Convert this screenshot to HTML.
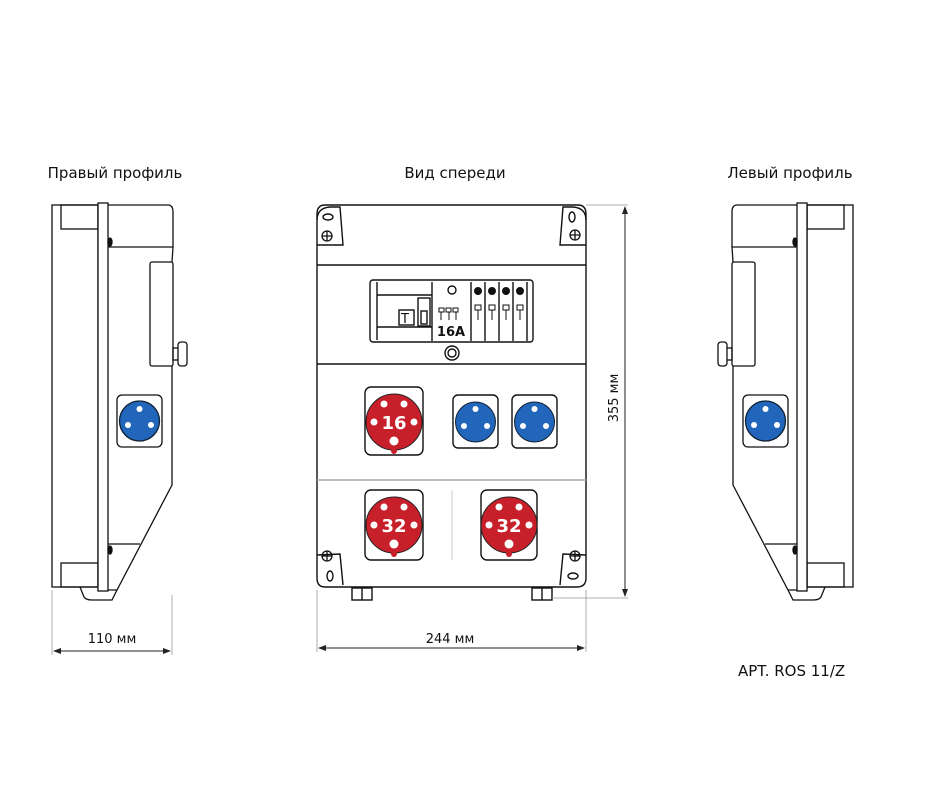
<!DOCTYPE html>
<html><head><meta charset="utf-8"><style>
html,body{margin:0;padding:0;background:#fff;width:940px;height:800px;overflow:hidden}
svg{display:block}
text{font-family:"DejaVu Sans","Liberation Sans",sans-serif;fill:#111}
</style></head><body>
<svg width="940" height="800" viewBox="0 0 940 800" xmlns="http://www.w3.org/2000/svg">
<defs>
<marker id="ar" markerWidth="8" markerHeight="6" refX="7" refY="3" orient="auto-start-reverse"><path d="M0,0 L8,3 L0,6 z" fill="#222"/></marker>
<g id="scr" fill="none" stroke="#111" stroke-width="1.3"><circle r="5"/><path d="M-5,0H5M0,-5V5"/></g>
<g id="side" fill="none" stroke="#111" stroke-width="1.3">
  <rect x="52" y="205" width="46" height="382" fill="#fff"/>
  <rect x="61" y="205" width="37" height="24"/>
  <rect x="61" y="563" width="37" height="24"/>
  <path d="M80,587 L84,597 Q86,600 92,600 L112,600 L117,590" />
  <path d="M108,205 L168,205 Q173,205 173,212 L173,247 L108,247"/>
  <path d="M173,247 L172,262 L172,485 L117,590 L108,590"/>
  <line x1="108" y1="544" x2="140" y2="544"/>
  <rect x="150" y="262" width="23" height="104" rx="2" fill="#fff"/>
  <rect x="173" y="348" width="6" height="12"/>
  <rect x="178" y="342" width="9" height="24" rx="3" fill="#fff"/>
  <rect x="98" y="203" width="10" height="388" fill="#fff"/>
  <ellipse cx="110" cy="242" rx="2" ry="4" fill="#111"/>
  <ellipse cx="110" cy="550" rx="2" ry="4" fill="#111"/>
  <rect x="117" y="395" width="45" height="52" rx="5" fill="#fff"/>
  <circle cx="139.5" cy="421" r="20" fill="#2266bb" stroke="#123"/>
  <circle cx="139.5" cy="409" r="3" fill="#fff" stroke="none"/>
  <circle cx="128" cy="425" r="3" fill="#fff" stroke="none"/>
  <circle cx="151" cy="425" r="3" fill="#fff" stroke="none"/>
</g>
</defs>

<text x="115" y="178" font-size="15" text-anchor="middle">Правый профиль</text>
<text x="455" y="178" font-size="15" text-anchor="middle">Вид спереди</text>
<text x="790" y="178" font-size="15" text-anchor="middle">Левый профиль</text>

<use href="#side"/>
<use href="#side" transform="translate(905,0) scale(-1,1)"/>

<g stroke="#999" stroke-width="0.8"><line x1="52" y1="590" x2="52" y2="655"/><line x1="172" y1="595" x2="172" y2="655"/></g>
<line x1="54" y1="651" x2="170" y2="651" stroke="#222" marker-start="url(#ar)" marker-end="url(#ar)"/>
<text x="112" y="643" font-size="13" text-anchor="middle">110 мм</text>

<g fill="none" stroke="#111" stroke-width="1.4">
  <path d="M325,205 L578,205 Q586,205 586,214 L586,578 Q586,587 577,587 L325,587 Q317,587 317,578 L317,214 Q317,205 325,205 z" fill="#fff"/>
  <line x1="317" y1="265" x2="586" y2="265"/>
  <line x1="317" y1="364" x2="586" y2="364"/>
  <line x1="317" y1="480" x2="586" y2="480" stroke="#aaa"/>
  <line x1="452" y1="490" x2="452" y2="560" stroke="#ddd"/>
  <path d="M317,220 Q317,208 330,207 L340,207 L343,245 L317,245" />
  <path d="M586,220 Q586,208 573,207 L563,207 L560,245 L586,245"/>
  <path d="M317,555 L340,554 L343,585"/>
  <path d="M586,555 L563,554 L560,585"/>
  <ellipse cx="328" cy="217" rx="5" ry="3"/><ellipse cx="572" cy="217" rx="3" ry="5"/>
  <ellipse cx="330" cy="576" rx="3" ry="5"/><ellipse cx="573" cy="576" rx="5" ry="3"/>
  <rect x="352" y="588" width="20" height="12"/><rect x="532" y="588" width="20" height="12"/>
  <line x1="362" y1="588" x2="362" y2="600"/><line x1="542" y1="588" x2="542" y2="600"/>
  <rect x="370" y="280" width="163" height="62" rx="3"/>
  <line x1="377" y1="282" x2="377" y2="340"/>
  <line x1="432" y1="282" x2="432" y2="341"/>
  <line x1="377" y1="295" x2="432" y2="295"/><line x1="377" y1="327" x2="432" y2="327"/>
  <rect x="399" y="310" width="15" height="15"/><rect x="418" y="298" width="12" height="28"/>
  <rect x="421" y="311" width="6" height="13"/>
  <circle cx="452" cy="290" r="4"/>
  <line x1="471" y1="282" x2="471" y2="341"/><line x1="485" y1="282" x2="485" y2="341"/>
  <line x1="499" y1="282" x2="499" y2="341"/><line x1="513" y1="282" x2="513" y2="341"/>
  <line x1="527" y1="282" x2="527" y2="341"/>
  <circle cx="452" cy="353" r="7"/><circle cx="452" cy="353" r="4"/>
  <rect x="365" y="387" width="58" height="68" rx="6"/>
  <rect x="453" y="395" width="45" height="53" rx="5"/>
  <rect x="512" y="395" width="45" height="53" rx="5"/>
  <rect x="365" y="490" width="58" height="70" rx="6"/>
  <rect x="481" y="490" width="56" height="70" rx="6"/>
</g>
<use href="#scr" x="327" y="236"/><use href="#scr" x="575" y="235"/>
<use href="#scr" x="327" y="556"/><use href="#scr" x="575" y="556"/>
<g font-size="8" fill="none" stroke="#111" stroke-width="1">
  <rect x="439" y="308" width="5" height="4" /><rect x="446" y="308" width="5" height="4"/><rect x="453" y="308" width="5" height="4"/>
  <path d="M441,312v8M449,312v8M456,312v8" />
  <g fill="#111"><circle cx="478" cy="291" r="3.5"/><circle cx="492" cy="291" r="3.5"/><circle cx="506" cy="291" r="3.5"/><circle cx="520" cy="291" r="3.5"/></g>
  <rect x="475" y="305" width="6" height="5"/><rect x="489" y="305" width="6" height="5"/><rect x="503" y="305" width="6" height="5"/><rect x="517" y="305" width="6" height="5"/>
  <path d="M478,310v10M492,310v10M506,310v10M520,310v10"/>
</g>
<text x="401" y="323" font-size="13">T</text>
<text x="451" y="336" font-size="13" font-weight="bold" text-anchor="middle">16A</text>

<g>
  <circle cx="394" cy="422" r="28" fill="#c8202a" stroke="#222"/>
  <circle cx="394" cy="451" r="3" fill="#c8202a"/>
  <g fill="#fff"><circle cx="384" cy="404" r="3.5"/><circle cx="404" cy="404" r="3.5"/><circle cx="374" cy="422" r="3.5"/><circle cx="414" cy="422" r="3.5"/><circle cx="394" cy="441" r="4.5"/></g>
  <text x="394" y="429" font-size="18" font-weight="bold" text-anchor="middle" style="fill:#fff">16</text>
</g>
<g>
  <circle cx="394" cy="525" r="28" fill="#c8202a" stroke="#222"/>
  <circle cx="394" cy="554" r="3" fill="#c8202a"/>
  <g fill="#fff"><circle cx="384" cy="507" r="3.5"/><circle cx="404" cy="507" r="3.5"/><circle cx="374" cy="525" r="3.5"/><circle cx="414" cy="525" r="3.5"/><circle cx="394" cy="544" r="4.5"/></g>
  <text x="394" y="532" font-size="18" font-weight="bold" text-anchor="middle" style="fill:#fff">32</text>
</g>
<g>
  <circle cx="509" cy="525" r="28" fill="#c8202a" stroke="#222"/>
  <circle cx="509" cy="554" r="3" fill="#c8202a"/>
  <g fill="#fff"><circle cx="499" cy="507" r="3.5"/><circle cx="519" cy="507" r="3.5"/><circle cx="489" cy="525" r="3.5"/><circle cx="529" cy="525" r="3.5"/><circle cx="509" cy="544" r="4.5"/></g>
  <text x="509" y="532" font-size="18" font-weight="bold" text-anchor="middle" style="fill:#fff">32</text>
</g>
<g>
  <circle cx="475.5" cy="422" r="20" fill="#2266bb" stroke="#123"/>
  <g fill="#fff"><circle cx="475.5" cy="409" r="3"/><circle cx="464" cy="426" r="3"/><circle cx="487" cy="426" r="3"/></g>
  <circle cx="534.5" cy="422" r="20" fill="#2266bb" stroke="#123"/>
  <g fill="#fff"><circle cx="534.5" cy="409" r="3"/><circle cx="523" cy="426" r="3"/><circle cx="546" cy="426" r="3"/></g>
</g>

<g stroke="#999" stroke-width="0.8">
  <line x1="317" y1="590" x2="317" y2="652"/><line x1="586" y1="590" x2="586" y2="652"/>
  <line x1="586" y1="205" x2="628" y2="205"/><line x1="552" y1="598" x2="628" y2="598"/>
</g>
<line x1="319" y1="648" x2="584" y2="648" stroke="#222" marker-start="url(#ar)" marker-end="url(#ar)"/>
<text x="450" y="643" font-size="13" text-anchor="middle">244 мм</text>
<line x1="625" y1="207" x2="625" y2="596" stroke="#222" marker-start="url(#ar)" marker-end="url(#ar)"/>
<text x="0" y="0" font-size="13" text-anchor="middle" transform="translate(618,398) rotate(-90)">355 мм</text>

<text x="738" y="676" font-size="15">APT. ROS 11/Z</text>
</svg>
</body></html>
